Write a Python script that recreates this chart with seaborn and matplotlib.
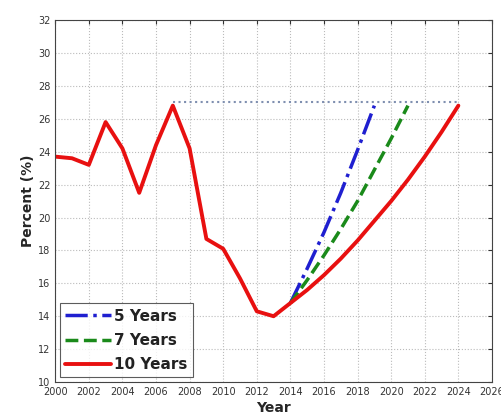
import numpy as np
import pandas as pd
import matplotlib
matplotlib.use('Agg')
import matplotlib.pyplot as plt
import seaborn as sns

# Historical + 10 year projection
years_10 = [2000, 2001, 2002, 2003, 2004, 2005, 2006, 2007, 2008, 2009, 2010, 2011, 2012, 2013,
            2014, 2015, 2016, 2017, 2018, 2019, 2020, 2021, 2022, 2023, 2024]
pct_10 = [23.7, 23.6, 23.2, 25.8, 24.2, 21.5, 24.4, 26.8, 24.2, 18.7, 18.1, 16.3, 14.3, 14.0,
          14.8, 15.6, 16.5, 17.5, 18.6, 19.8, 21.0, 22.3, 23.7, 25.2, 26.8]

# 5 year projection
years_5 = [2014, 2015, 2016, 2017, 2018, 2019]
pct_5 = [14.8, 16.9, 19.1, 21.5, 24.1, 26.8]

# 7 year projection
years_7 = [2014, 2015, 2016, 2017, 2018, 2019, 2020, 2021]
pct_7 = [14.8, 16.2, 17.7, 19.3, 21.0, 22.9, 24.8, 26.8]

# target level
target_years = [2007, 2024]
target_pct = [27.0, 27.0]

sns.set_style('white')
plt.rcParams['font.family'] = ['DejaVu Sans']

fig = plt.figure(figsize=(5.02, 4.18), dpi=100)
ax = fig.add_axes([0.11, 0.086, 0.87, 0.866])

ax.plot(target_years, target_pct, color='#7f8fb0', linestyle=':', linewidth=1.5)
sns.lineplot(x=years_5, y=pct_5, ax=ax, color='#1f1fd0', linestyle='-.', linewidth=2.5,
             label='5 Years')
sns.lineplot(x=years_7, y=pct_7, ax=ax, color='#1a8a1a', linestyle='--', linewidth=2.5,
             label='7 Years')
sns.lineplot(x=years_10, y=pct_10, ax=ax, color='#e81010', linestyle='-', linewidth=2.8,
             label='10 Years')

ax.set_xlim(2000, 2026)
ax.set_ylim(10, 32)
ax.set_xticks(np.arange(2000, 2027, 2))
ax.set_yticks(np.arange(10, 33, 2))
ax.tick_params(direction='in', top=True, right=True, length=3, labelsize=7, colors='#333333')
ax.grid(True, linestyle=':', color='#bbbbbb', linewidth=0.8)
for s in ax.spines.values():
    s.set_color('#444444')
    s.set_linewidth(0.8)

ax.set_xlabel('Year', fontsize=10, fontweight='bold', labelpad=3)
ax.set_ylabel('Percent (%)', fontsize=10, fontweight='bold', labelpad=2)

leg = ax.legend(loc='lower left', fontsize=11, frameon=True, fancybox=False,
                handlelength=3.0, handletextpad=0.2, borderpad=0.35, labelspacing=0.6,
                borderaxespad=0.3)
leg.get_frame().set_edgecolor('#333333')
leg.get_frame().set_linewidth(0.8)
for t in leg.get_texts():
    t.set_fontweight('bold')
    t.set_color('#222222')

fig.savefig('out.png', dpi=100)
